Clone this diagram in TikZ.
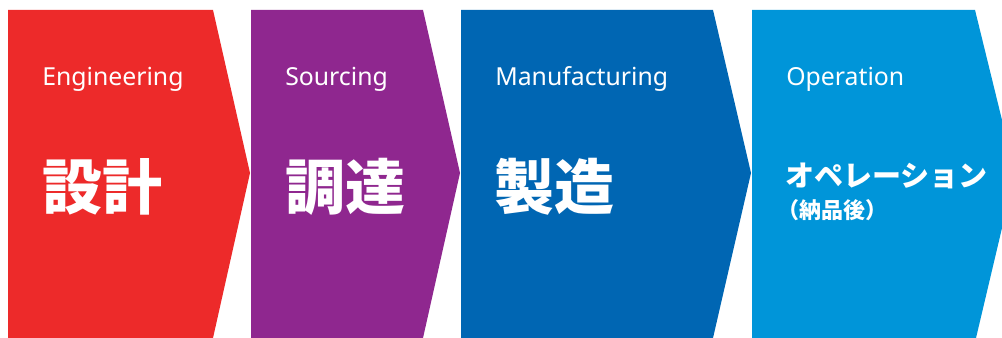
\documentclass[tikz,border=0pt]{standalone}
\usepackage{fontspec}
\setmainfont{Noto Sans}
\newfontfamily\jpfont{Noto Sans CJK JP}[BoldFont={Noto Sans CJK JP Black}]
\usepackage{tikz}

\definecolor{engRed}{RGB}{237,42,42}
\definecolor{srcPurple}{RGB}{143,39,143}
\definecolor{mfgBlue}{RGB}{0,102,179}
\definecolor{opBlue}{RGB}{0,149,217}

\tikzset{
  enLabel/.style={anchor=base west, inner sep=0pt, text=white, font=\fontsize{18.6}{19}\selectfont},
  jaLabel/.style={anchor=base west, inner sep=0pt, text=white, font=\jpfont\bfseries\fontsize{45}{45}\selectfont},
  opLabel/.style={anchor=base west, inner sep=0pt, text=white, font=\jpfont\bfseries\fontsize{21.75}{22}\selectfont},
  subLabel/.style={anchor=base west, inner sep=0pt, text=white, font=\jpfont\bfseries\fontsize{16.5}{17}\selectfont}
}

\begin{document}
\begin{tikzpicture}[x=0.75pt,y=0.75pt,yscale=-1,xscale=1]
            \useasboundingbox (0,0) rectangle (1002,338);
            \clip (0,0) rectangle (1002,338);

            % Chevrons
            \fill[engRed]    (8,10) -- (213,10) -- (250,173) -- (213,338) -- (8,338) -- cycle;
            \fill[srcPurple] (251,10) -- (423,10) -- (460,173) -- (423,338) -- (251,338) -- cycle;
            \fill[mfgBlue]   (461,10) -- (713,10) -- (751,173) -- (713,338) -- (461,338) -- cycle;
            \fill[opBlue]    (752,10) -- (975,10) -- (1015,173) -- (976,338) -- (752,338) -- cycle;

            % English labels
            \draw (42,86) node (engTitle) [enLabel] {Engineering};
            \draw (285,86) node (srcTitle) [enLabel] {Sourcing};
            \draw (495,86) node (mfgTitle) [enLabel] {Manufacturing};
            \draw (786,86) node (opTitle) [enLabel] {Operation};

            % Japanese labels
            \draw (42,210) node (engName) [jaLabel] {設計};
            \draw (285,210) node (srcName) [jaLabel] {調達};
            \draw (494,210) node (mfgName) [jaLabel] {製造};
            \draw (785,187) node (opName) [opLabel] {オペレーション};
            \draw (777,219) node (opNote) [subLabel] {（納品後）};

            \end{tikzpicture}
\end{document}
